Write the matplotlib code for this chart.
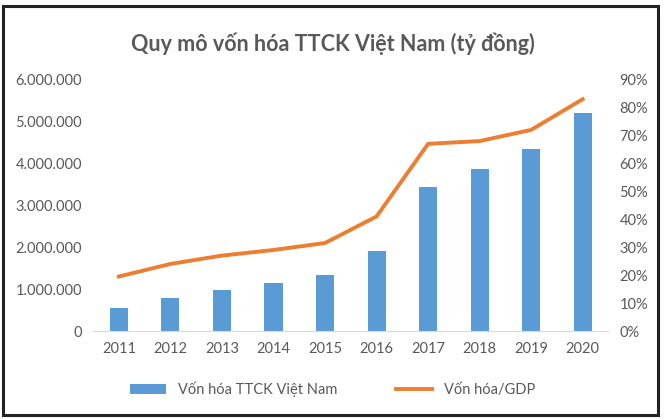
import matplotlib.pyplot as plt
from matplotlib.ticker import FuncFormatter, MultipleLocator

plt.rcParams["font.family"] = "Lato"

years = ["2011", "2012", "2013", "2014", "2015", "2016", "2017", "2018", "2019", "2020"]
market_cap = [560000, 790000, 970000, 1150000, 1330000, 1900000, 3430000, 3870000, 4350000, 5200000]
cap_to_gdp = [19.5, 24.0, 27.0, 29.0, 31.5, 41.0, 67.0, 68.0, 72.0, 83.0]

blue = "#5B9BD5"
orange = "#ED7D31"
grey = "#595959"

fig = plt.figure(figsize=(6.65, 4.19), dpi=100)
fig.patches.append(plt.Rectangle((0.004, 0.01), 0.985, 0.975, transform=fig.transFigure,
                                 fill=False, edgecolor="#222222", linewidth=2.2))
ax = fig.add_axes([0.14, 0.21, 0.775, 0.60])
x = range(len(years))
bars = ax.bar(x, market_cap, width=0.35, color=blue, label="Vốn hóa TTCK Việt Nam")
ax.set_ylim(0, 6000000)
ax.yaxis.set_major_locator(MultipleLocator(1000000))
ax.yaxis.set_major_formatter(FuncFormatter(lambda v, p: f"{int(v):,}".replace(",", ".")))
ax.set_xticks(list(x))
ax.set_xticklabels(years)
ax.set_xlim(-0.5, len(years) - 0.5)

ax2 = ax.twinx()
line, = ax2.plot(x, cap_to_gdp, color=orange, linewidth=2.8, label="Vốn hóa/GDP")
ax2.set_ylim(0, 90)
ax2.yaxis.set_major_locator(MultipleLocator(10))
ax2.yaxis.set_major_formatter(FuncFormatter(lambda v, p: f"{int(v)}%"))

for a in (ax, ax2):
    for s in a.spines.values():
        s.set_visible(False)
    a.tick_params(length=0, colors=grey, labelsize=10.5, pad=8)
ax.spines["bottom"].set_visible(True)
ax.spines["bottom"].set_color("#D9D9D9")

fig.text(0.5, 0.895, "Quy mô vốn hóa TTCK Việt Nam (tỷ đồng)", ha="center", va="center",
         fontsize=15.5, fontweight="bold", color=grey)
fig.legend(handles=[bars, line], loc="lower center", bbox_to_anchor=(0.5, 0.02), ncol=2,
           frameon=False, fontsize=10.5, labelcolor=grey, columnspacing=4, handlelength=2.5)
fig.savefig("out.png", dpi=100)
